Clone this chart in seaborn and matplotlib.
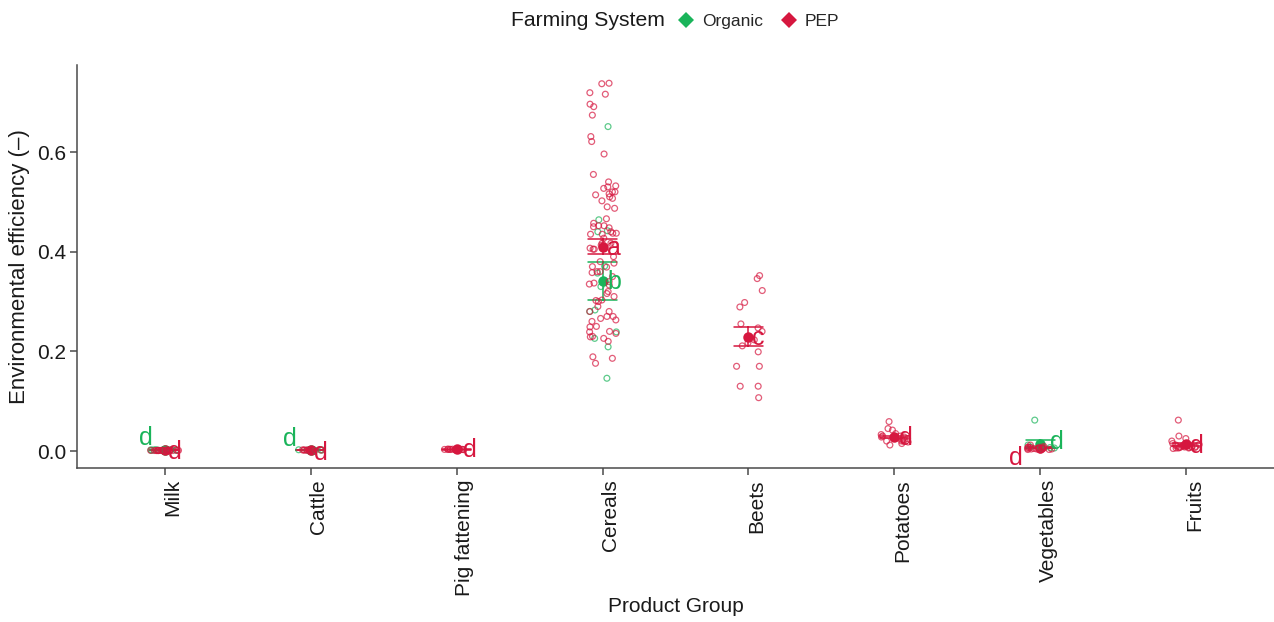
import numpy as np
import pandas as pd
import matplotlib
matplotlib.use("Agg")
import matplotlib.pyplot as plt
import matplotlib.transforms as mtransforms
from matplotlib.lines import Line2D
import seaborn as sns

np.random.seed(3)

categories = ["Milk", "Cattle", "Pig fattening", "Cereals", "Beets",
              "Potatoes", "Vegetables", "Fruits"]
systems = ["Organic", "PEP"]

milk_org = [0.002, 0.0025, 0.0015, 0.003, 0.002, 0.0018, 0.0022, 0.0027,
            0.0012, 0.002, 0.0024, 0.0016]
milk_pep = [0.001, 0.0012, 0.0008, 0.0015, 0.0011, 0.0009, 0.0013, 0.001,
            0.0007, 0.0014, 0.0012, 0.001, 0.0016, 0.0009, 0.0011, 0.0008,
            0.0013, 0.001, 0.0012, 0.0015]
cattle_org = [0.002, 0.0022, 0.0018, 0.0025, 0.0015]
cattle_pep = [0.002, 0.0018, 0.0022, 0.0016, 0.0024, 0.002, 0.0019, 0.0021,
              0.0017, 0.0023]
pig_pep = [0.003, 0.0035, 0.0025, 0.004, 0.003, 0.0028, 0.0032, 0.0022,
           0.0036, 0.003, 0.0027, 0.0033]
cereals_org = [0.651, 0.464, 0.442, 0.440, 0.371, 0.357, 0.330, 0.280,
               0.283, 0.239, 0.226, 0.209, 0.146]
cereals_pep = [0.738, 0.737, 0.716, 0.719, 0.696, 0.691, 0.674, 0.631,
               0.621, 0.596, 0.555, 0.532, 0.530, 0.527, 0.540, 0.514,
               0.520, 0.520, 0.516, 0.502, 0.507, 0.510, 0.490, 0.487,
               0.466, 0.452, 0.452, 0.457, 0.450, 0.448, 0.440, 0.437,
               0.437, 0.427, 0.435, 0.435, 0.415, 0.417, 0.417, 0.413,
               0.405, 0.405, 0.407, 0.377, 0.369, 0.358, 0.360, 0.335,
               0.337, 0.333, 0.316, 0.303, 0.302, 0.270, 0.263, 0.266,
               0.249, 0.239, 0.229, 0.236, 0.226, 0.186, 0.189, 0.176,
               0.320, 0.310, 0.290, 0.280, 0.270, 0.250, 0.240, 0.230,
               0.220, 0.350, 0.340, 0.300, 0.280, 0.260, 0.360, 0.380,
               0.390, 0.370]
beets_pep = [0.352, 0.346, 0.322, 0.298, 0.289, 0.255, 0.247, 0.240, 0.223,
             0.217, 0.211, 0.199, 0.170, 0.170, 0.130, 0.130, 0.107]
potatoes_pep = [0.059, 0.045, 0.042, 0.035, 0.030, 0.028, 0.025, 0.022,
                0.020, 0.018, 0.015, 0.012, 0.025, 0.030, 0.022, 0.033,
                0.028, 0.020]
veg_org = [0.062, 0.010, 0.008, 0.006, 0.005, 0.007, 0.012, 0.009]
veg_pep = [0.005, 0.004, 0.006, 0.003, 0.007, 0.005, 0.008, 0.004, 0.006,
           0.002, 0.005, 0.009, 0.004, 0.006, 0.012, 0.005, 0.003, 0.007]
fruits_pep = [0.062, 0.030, 0.025, 0.020, 0.015, 0.012, 0.010, 0.008,
              0.007, 0.006, 0.009, 0.011, 0.005, 0.008, 0.010, 0.007,
              0.012, 0.006, 0.009, 0.008, 0.010, 0.013, 0.007, 0.006]

groups = [
    ("Milk", "Organic", milk_org), ("Milk", "PEP", milk_pep),
    ("Cattle", "Organic", cattle_org), ("Cattle", "PEP", cattle_pep),
    ("Pig fattening", "PEP", pig_pep),
    ("Cereals", "Organic", cereals_org), ("Cereals", "PEP", cereals_pep),
    ("Beets", "PEP", beets_pep),
    ("Potatoes", "PEP", potatoes_pep),
    ("Vegetables", "Organic", veg_org), ("Vegetables", "PEP", veg_pep),
    ("Fruits", "PEP", fruits_pep),
]

# significance letters
letters = [("Milk", "Organic", "d"), ("Milk", "PEP", "d"),
           ("Cattle", "Organic", "d"), ("Cattle", "PEP", "d"),
           ("Pig fattening", "PEP", "d"),
           ("Cereals", "PEP", "a"), ("Cereals", "Organic", "b"),
           ("Beets", "PEP", "c"), ("Potatoes", "PEP", "d"),
           ("Vegetables", "PEP", "d"), ("Vegetables", "Organic", "d"),
           ("Fruits", "PEP", "d")]
# label placement (x offset in category units, y offset from group mean)
label_nudge = {("Milk", "Organic"): (-0.13, 0.024), ("Milk", "PEP"): (0.07, -0.004),
               ("Cattle", "Organic"): (-0.14, 0.022), ("Cattle", "PEP"): (0.07, -0.005),
               ("Pig fattening", "PEP"): (0.09, -0.002),
               ("Cereals", "PEP"): (0.08, -0.003), ("Cereals", "Organic"): (0.08, -0.003),
               ("Beets", "PEP"): (0.065, -0.003), ("Potatoes", "PEP"): (0.08, -0.003),
               ("Vegetables", "PEP"): (-0.17, -0.02), ("Vegetables", "Organic"): (0.11, 0.004),
               ("Fruits", "PEP"): (0.07, -0.003)}

df = pd.concat([pd.DataFrame({"Product Group": c, "Farming System": s, "value": v})
                for c, s, v in groups], ignore_index=True)

palette = {"Organic": "#1AB45A", "PEP": "#D6173F"}

sns.set_theme(style="white")
plt.rcParams["font.family"] = ["Liberation Sans", "DejaVu Sans"]

fig = plt.figure(figsize=(12.74, 6.22), dpi=100)
ax = fig.add_axes([77 / 1274, 1 - 468 / 622, 1 - 77 / 1274, (468 - 65) / 622])

sns.stripplot(data=df, x="Product Group", y="value", hue="Farming System",
              order=categories, hue_order=systems, palette=palette,
              jitter=0.1, dodge=False, size=4.2, alpha=0.7, ax=ax, legend=False)
for coll in ax.collections:
    fc = coll.get_facecolors()
    coll.set_edgecolors(fc)
    coll.set_facecolors("none")
    coll.set_linewidths(0.9)

sns.pointplot(data=df, x="Product Group", y="value", hue="Farming System",
              order=categories, hue_order=systems, palette=palette,
              errorbar="se", capsize=0.2, linestyle="none", dodge=False,
              markersize=5.5, err_kws={"linewidth": 1.1}, ax=ax, legend=False)

means = df.groupby(["Product Group", "Farming System"])["value"].mean()
for cat, sys_, let in letters:
    dx, dy = label_nudge[(cat, sys_)]
    ax.text(categories.index(cat) + dx, means[(cat, sys_)] + dy, let,
            color=palette[sys_], fontsize=18, ha="center", va="center")

ax.set_xlim(-0.6, 7.6)
ax.set_ylim(-0.0341, 0.7746)
ax.set_yticks([0.0, 0.2, 0.4, 0.6])
ax.set_yticklabels(["0.0", "0.2", "0.4", "0.6"])
for s in ["top", "right"]:
    ax.spines[s].set_visible(False)
for s in ["left", "bottom"]:
    ax.spines[s].set_color("#4a4a4a")
    ax.spines[s].set_linewidth(1.1)
ax.tick_params(axis="both", which="both", length=5, width=1.1, color="#4a4a4a",
               labelsize=15, labelcolor="#1a1a1a", direction="out",
               left=True, bottom=True, pad=3)
ax.tick_params(axis="x", rotation=90)
offset = mtransforms.ScaledTranslation(8 / 100, 0, fig.dpi_scale_trans)
for lab in ax.get_xticklabels():
    lab.set_transform(lab.get_transform() + offset)
    lab.set_va("top")
    lab.set_ha("center")

ax.set_xlabel("Product Group", fontsize=15, color="#1a1a1a")
ax.xaxis.set_label_coords(0.5, (468 - 597) / 403)
ax.set_ylabel("Environmental efficiency (–)", fontsize=16, color="#1a1a1a", labelpad=5)
ax.grid(False)

fig.text(511 / 1274, 1 - 21 / 622, "Farming System", fontsize=15.2, color="#1a1a1a",
         ha="left", va="center")
handles = [Line2D([], [], marker="D", linestyle="none", markersize=8.5,
                  color=palette[s], markeredgewidth=0) for s in systems]
fig.legend(handles, systems, loc="center left",
           bbox_to_anchor=(676 / 1274, 1 - 21 / 622), ncol=2, frameon=False,
           fontsize=12.5, handletextpad=0.3, columnspacing=0.9, handlelength=1.2,
           borderaxespad=0, borderpad=0)

fig.savefig("out.png", dpi=100)
